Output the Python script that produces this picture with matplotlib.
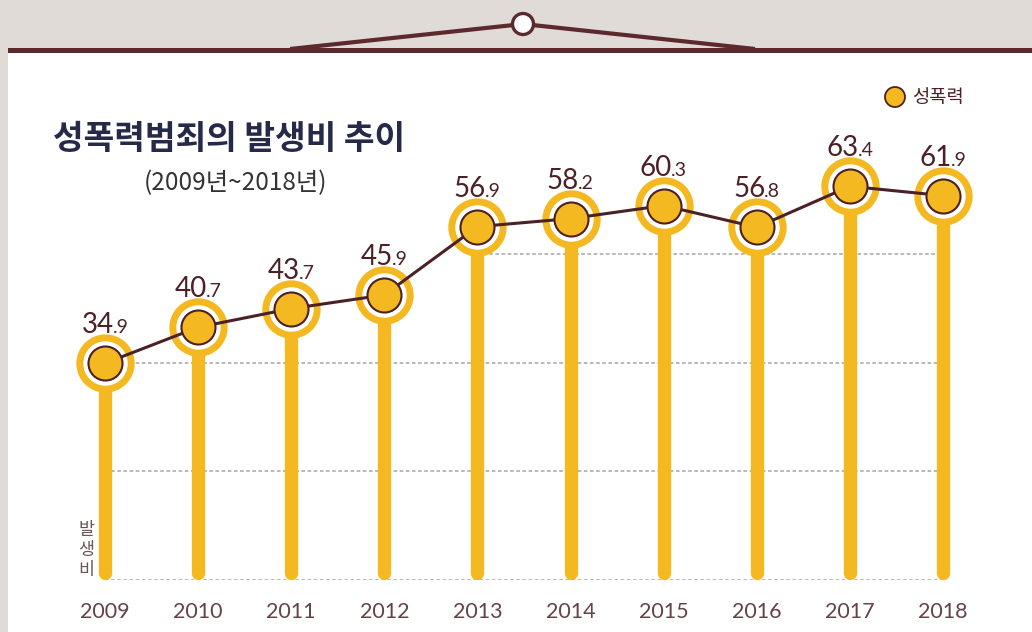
import numpy as np
import matplotlib.pyplot as plt
from matplotlib.patches import Rectangle, Circle

plt.rcParams['font.family'] = ['Noto Sans CJK KR', 'DejaVu Sans']

# Data
years = ['2009', '2010', '2011', '2012', '2013', '2014', '2015', '2016', '2017', '2018']
rates = [34.9, 40.7, 43.7, 45.9, 56.9, 58.2, 60.3, 56.8, 63.4, 61.9]
grid_levels = [0, 17.5, 35, 52.5]

title = '성폭력범죄의 발생비 추이'
subtitle = '(2009년~2018년)'
series_name = '성폭력'
ylabel = '발생비'

# Colours
yellow = '#f4b920'
brown = '#4b2127'
bar_brown = '#5c2a2e'
grey_bg = '#e0dbd7'
navy = '#262a48'
num_font = ['Lato', 'DejaVu Sans']

W, H = 1032, 632
fig = plt.figure(figsize=(W / 100, H / 100), dpi=100)
fig.patch.set_facecolor(grey_bg)

# background panel drawn in pixel coordinates
bg = fig.add_axes([0, 0, 1, 1], zorder=0)
bg.set_xlim(0, W)
bg.set_ylim(H, 0)
bg.axis('off')
bg.add_patch(Rectangle((8, 53), W - 8, H - 53, facecolor='white', edgecolor='none'))
bg.add_patch(Rectangle((8, 47.5), W - 8, 5.5, facecolor=bar_brown, edgecolor='none'))
bg.plot([290, 523, 755], [49, 24, 49], color=bar_brown, lw=3, solid_capstyle='butt')
bg.add_patch(Circle((523, 24), 10.5, facecolor='white', edgecolor=bar_brown, lw=2.4, zorder=3))

# legend
bg.add_patch(Circle((895, 97), 10, facecolor=yellow, edgecolor=brown, lw=1.3))
bg.text(912, 97, series_name, fontsize=13.5, fontweight='medium', color=brown,
        va='center', ha='left')

# titles
bg.text(53, 140, title, fontsize=24, fontweight='heavy', color=navy, va='center', ha='left')
bg.text(235, 183, subtitle, fontsize=17.5, color='#333333', va='center', ha='center')

# vertical axis label, one character per line
bg.text(86, 550, '\n'.join(ylabel), fontsize=12.5, color='#6b5656', va='center',
        ha='center', linespacing=1.15, fontweight='light')

# main chart area
x = np.arange(len(years))
step = 93.1
y0_px, px_per_unit = 580, 6.21
ymax = 70
left = (105 - step / 2) / W
width = step * len(years) / W
bottom = (H - y0_px) / H
height = ymax * px_per_unit / H
ax = fig.add_axes([left, bottom, width, height], zorder=1)
ax.set_facecolor('none')
ax.set_xlim(-0.5, len(years) - 0.5)
ax.set_ylim(0, ymax)
for s in ax.spines.values():
    s.set_visible(False)
ax.set_yticks([])

# dotted guides run from the first stem that reaches them to the last one
for lvl in grid_levels:
    start = next(i for i, v in enumerate(rates) if v >= lvl - 0.5)
    ax.hlines(lvl, start, len(years) - 1, colors='#b3b3b3', lw=1.3,
              linestyles=(0, (2, 1.4)), zorder=0.5)

stems = ax.vlines(x, 1.1, rates, colors=yellow, lw=9.6, zorder=1)
stems.set_capstyle('round')

ax.scatter(x, rates, s=42 ** 2, color=yellow, zorder=2, linewidths=0)
ax.scatter(x, rates, s=32 ** 2, color='white', zorder=3, linewidths=0)
ax.plot(x, rates, color=brown, lw=2.2, zorder=4)
ax.scatter(x, rates, s=24.5 ** 2, color=yellow, edgecolors=brown, linewidths=1.5, zorder=5)

ax.set_xticks(x)
ax.set_xticklabels(years, fontsize=15.5, color='#644346', family=num_font)
ax.tick_params(axis='x', length=0, pad=16)

# value labels: whole part large, decimal part small, centred together
renderer = fig.canvas.get_renderer()
for xi, v in zip(x, rates):
    whole, frac = f'{v:.1f}'.split('.')
    t1 = ax.annotate(whole, (xi, v), xytext=(0, 30), textcoords='offset pixels',
                     fontsize=20, color=brown, ha='left', va='baseline',
                     family=num_font, zorder=6)
    t2 = ax.annotate('.' + frac, (xi, v), xytext=(0, 30), textcoords='offset pixels',
                     fontsize=14, color=brown, ha='left', va='baseline',
                     family=num_font, zorder=6)
    w1 = t1.get_window_extent(renderer).width - 1
    w2 = t2.get_window_extent(renderer).width
    t1.set_position((-(w1 + w2) / 2, 30))
    t2.set_position((-(w1 + w2) / 2 + w1, 30))

fig.savefig('out.png', dpi=100, facecolor=fig.get_facecolor())
